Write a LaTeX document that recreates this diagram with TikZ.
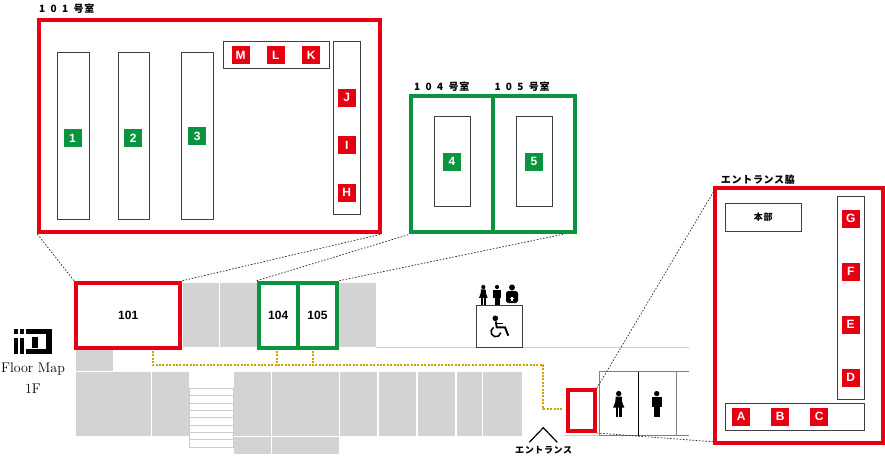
\documentclass[tikz,border=0pt]{standalone}
\usepackage{fontspec}
\newfontfamily\tagfont{Liberation Sans}
\newfontfamily\jpfont[LetterSpace=7,WordSpace=1.8]{Noto Sans CJK JP}
\definecolor{mapred}{HTML}{E60012}
\definecolor{mapgreen}{HTML}{0A9440}
\definecolor{mapgold}{HTML}{CFA200}
\definecolor{mapgrey}{HTML}{D3D3D3}
\tikzset{
    redroom/.style={draw=mapred, line width=4pt, fill=white, inner sep=0pt},
    greenroom/.style={draw=mapgreen, line width=4pt, fill=white, inner sep=0pt},
    rackbox/.style={draw=black!75, line width=0.8pt, fill=white, inner sep=0pt},
    redtag/.style={fill=mapred, text=white, minimum size=18pt, inner sep=0pt, font=\tagfont\bfseries\fontsize{12}{13}\selectfont},
    greentag/.style={redtag, fill=mapgreen},
    roomtext/.style={font=\tagfont\bfseries\fontsize{12}{13}\selectfont, inner sep=0pt},
    jptext/.style={font=\jpfont\bfseries\fontsize{10}{11}\selectfont, inner sep=0pt},
    smalljptext/.style={font=\jpfont\bfseries\fontsize{9}{10}\selectfont, inner sep=0pt},
    zoomline/.style={black!85, line width=0.7pt, dash pattern=on 1.6pt off 1.6pt},
    guideline/.style={mapgold, line width=2pt, dash pattern=on 2pt off 1.4pt},
    wall/.style={black!20, line width=0.9pt},
    toiletwall/.style={black!50, line width=1.2pt},
    womanicon/.pic={
        \fill (0,0) circle (2.7);
        \fill (-3,3) -- (3,3) .. controls (2.6,7) and (3.6,9) .. (5.6,14) -- (-5.6,14) .. controls (-3.6,9) and (-2.6,7) .. (-3,3) -- cycle;
        \fill (-2.9,13) rectangle (-0.4,23.5);
        \fill (0.4,13) rectangle (2.9,23.5);
    },
    manicon/.pic={
        \fill (0,0) circle (2.7);
        \fill (-5,3.2) rectangle (5,13.5);
        \fill (-3.2,3.2) rectangle (3.2,23.5);
    }
}
\begin{document}
\begin{tikzpicture}[x=1pt, y=-1pt]
    \useasboundingbox (0,0) rectangle (885,459);

    \fill[mapgrey] (182.7,282.7) rectangle (219,347.3);
    \fill[mapgrey] (220,282.7) rectangle (256.7,347.3);
    \fill[mapgrey] (339.3,282.7) rectangle (376.3,347.3);
    \fill[mapgrey] (76.3,349.3) rectangle (113.3,371.3);
    \fill[mapgrey] (76.3,372.3) rectangle (150.7,436);
    \fill[mapgrey] (152,372.3) rectangle (189.3,436);
    \fill[mapgrey] (233.7,371.7) rectangle (271,435.7);
    \fill[mapgrey] (272.3,371.7) rectangle (338.7,435.7);
    \fill[mapgrey] (339.7,371.7) rectangle (377,435.7);
    \fill[mapgrey] (378.7,371.7) rectangle (416.3,435.7);
    \fill[mapgrey] (418,371.7) rectangle (455.3,435.7);
    \fill[mapgrey] (457,371.7) rectangle (481.7,435.7);
    \fill[mapgrey] (483,371.7) rectangle (521.7,435.7);
    \fill[mapgrey] (233.7,436.7) rectangle (271,454.3);
    \fill[mapgrey] (272.3,436.7) rectangle (339,454.3);

    \draw[wall] (189.3,388) rectangle (233.3,447.3);
    \draw[wall] (189.3,395.3) -- (233.3,395.3);
    \draw[wall] (189.3,403) -- (233.3,403);
    \draw[wall] (189.3,410.3) -- (233.3,410.3);
    \draw[wall] (189.3,417.7) -- (233.3,417.7);
    \draw[wall] (189.3,425) -- (233.3,425);
    \draw[wall] (189.3,432.3) -- (233.3,432.3);
    \draw[wall] (189.3,439.7) -- (233.3,439.7);
    \draw[wall] (376.3,347.3) -- (688.7,347.3);
    \draw[wall] (564,435.7) -- (599.3,435.7);

    \draw[toiletwall] (599.3,435.7) -- (688.7,435.7);
    \draw[toiletwall] (599.3,371.7) -- (688.7,371.7);
    \draw[toiletwall] (599.3,371.7) -- (599.3,435.7);
    \draw[toiletwall] (676.3,371.7) -- (676.3,435.7);
    \draw[black, line width=0.8pt] (638.7,371.7) -- (638.7,435.7);
    \pic at (618.7,393.6) {womanicon};
    \pic at (656.7,393.6) {manicon};

    \node[rackbox, minimum width=45.3pt, minimum height=42.3pt] (liftbox) at (499.3,326.2) {};
    \fill (495.3,318.3) circle (2.8);
    \draw[line width=1.9pt] (495.8,321.5) -- (496.7,327.3) -- (505,327.3) -- (508.3,335.7);
    \draw[line width=1.5pt] (496.5,323.5) -- (503.3,323.5);
    \draw[line width=1.5pt] (493.5,327.4) arc (240:10:5);
    \pic[scale=0.78] at (483.3,287) {womanicon};
    \pic[scale=0.78] at (497,287) {manicon};
    \fill (512,287.5) circle (3);
    \fill[rounded corners=2.5pt] (506,303) -- (506,291) -- (518,291) -- (518,303) -- cycle;
    \fill[white] (511.2,296.5) rectangle (512.8,300.5);
    \fill[white] (510,297.7) rectangle (514,299.3);

    \draw[line width=1.2pt] (529.3,442.3) -- (543.3,427.7) -- (557.3,442.3);
    \node[smalljptext, anchor=west] (entrancetext) at (515,450.3) {エントランス};

    \coordinate (route101) at (152.5,351);
    \coordinate (route104) at (276.7,351);
    \coordinate (route105) at (313.3,351);
    \coordinate (routecorner) at (543.3,365);
    \coordinate (routeend) at (563,409);
    \draw[guideline] (route101) |- (routecorner) |- (routeend);
    \draw[guideline] (route104) -- (route104 |- routecorner);
    \draw[guideline] (route105) -- (route105 |- routecorner);

    \node[redroom, minimum width=104.3pt, minimum height=65pt, roomtext] (room101) at (128.2,315.2) {101};
    \node[greenroom, minimum width=39pt, minimum height=65pt, roomtext] (room104) at (278.2,315.2) {104};
    \node[greenroom, minimum width=39.6pt, minimum height=65pt, roomtext] (room105) at (317.5,315.2) {105};
    \node[redroom, minimum width=27pt, minimum height=40.7pt] (roomfront) at (581.2,410.7) {};

    \fill (13.7,328.7) rectangle (17.7,334);
    \fill (13.7,338.3) rectangle (17.7,354.3);
    \fill (19.7,328.7) rectangle (23.7,334);
    \fill (19.7,338.3) rectangle (23.7,354.3);
    \fill (26.3,328.7) rectangle (51.7,334);
    \fill (26.3,349.3) rectangle (51.7,354.3);
    \fill (45.7,328.7) rectangle (51.7,354.3);
    \fill (32.3,337.3) rectangle (37.5,348.3);
    \node[inner sep=0pt, font=\fontsize{14}{15}\selectfont] (floortext) at (33,369) {Floor Map};
    \node[inner sep=0pt, font=\fontsize{14}{15}\selectfont] (leveltext) at (33,389) {1F};

    \node[redroom, minimum width=340.4pt, minimum height=211.7pt] (detail101) at (209.5,126.2) {};
    \node[jptext, anchor=west] (title101) at (39,8.5) {1 0 1 号室};
    \node[rackbox, minimum width=32pt, minimum height=167pt] (rack1) at (73.7,136.2) {};
    \node[rackbox, minimum width=31.7pt, minimum height=167pt] (rack2) at (133.8,136.2) {};
    \node[rackbox, minimum width=31.6pt, minimum height=167pt] (rack3) at (197.5,136.2) {};
    \node[rackbox, minimum width=105.7pt, minimum height=27pt] (rackkm) at (276.2,55.2) {};
    \node[rackbox, minimum width=26.6pt, minimum height=172.3pt] (rackhj) at (347,127.8) {};
    \node[greentag] (tag1) at (72.5,138) {1};
    \node[greentag] (tag2) at (133.3,138) {2};
    \node[greentag] (tag3) at (197.3,136) {3};
    \node[redtag] (tagM) at (240.5,55) {M};
    \node[redtag] (tagL) at (275.7,55) {L};
    \node[redtag] (tagK) at (311.3,55) {K};
    \node[redtag] (tagJ) at (346.7,97.7) {J};
    \node[redtag] (tagI) at (346.7,145.3) {I};
    \node[redtag] (tagH) at (346.7,192.7) {H};

    \node[greenroom, minimum width=82.2pt, minimum height=136.3pt] (detail104) at (452.4,164.2) {};
    \node[greenroom, minimum width=81.5pt, minimum height=136.3pt] (detail105) at (534.2,164.2) {};
    \node[jptext, anchor=west] (title104) at (414,86.7) {1 0 4 号室};
    \node[jptext, anchor=west] (title105) at (494.3,86.7) {1 0 5 号室};
    \node[rackbox, minimum width=36.3pt, minimum height=90.4pt] (rack4) at (452.2,161.5) {};
    \node[rackbox, minimum width=36.3pt, minimum height=90.4pt] (rack5) at (534.2,161.5) {};
    \node[greentag] (tag4) at (452,161.7) {4};
    \node[greentag] (tag5) at (534,161.7) {5};

    \node[redroom, minimum width=167.4pt, minimum height=254.7pt] (detailfront) at (799,315.3) {};
    \node[jptext, anchor=west] (titlefront) at (720.7,180) {エントランス脇};
    \node[rackbox, minimum width=76.7pt, minimum height=27.7pt, smalljptext] (honbu) at (763.3,217.2) {本部};
    \node[rackbox, minimum width=27pt, minimum height=202.6pt] (rackdg) at (850.8,298) {};
    \node[rackbox, minimum width=139.3pt, minimum height=27pt] (rackac) at (794.7,416.8) {};
    \node[redtag] (tagG) at (850.7,218.7) {G};
    \node[redtag] (tagF) at (850.7,271.7) {F};
    \node[redtag] (tagE) at (850.7,324.7) {E};
    \node[redtag] (tagD) at (850.7,377.7) {D};
    \node[redtag] (tagA) at (741.3,416.7) {A};
    \node[redtag] (tagB) at (780.3,416.7) {B};
    \node[redtag] (tagC) at (819.3,416.7) {C};

    \coordinate (foot105) at (563,234.3);
    \coordinate (frontupper) at (713.3,192);
    \coordinate (frontlower) at (713.3,441.7);
    \draw[zoomline] (room101.north west) -- (detail101.south west);
    \draw[zoomline] (room101.north east) -- (detail101.south east);
    \draw[zoomline] (room104.north west) -- (detail104.south west);
    \draw[zoomline] (room105.north east) -- (foot105);
    \draw[zoomline] (roomfront.north east) -- (frontupper);
    \draw[zoomline] (roomfront.south east) -- (frontlower);
\end{tikzpicture}
\end{document}
